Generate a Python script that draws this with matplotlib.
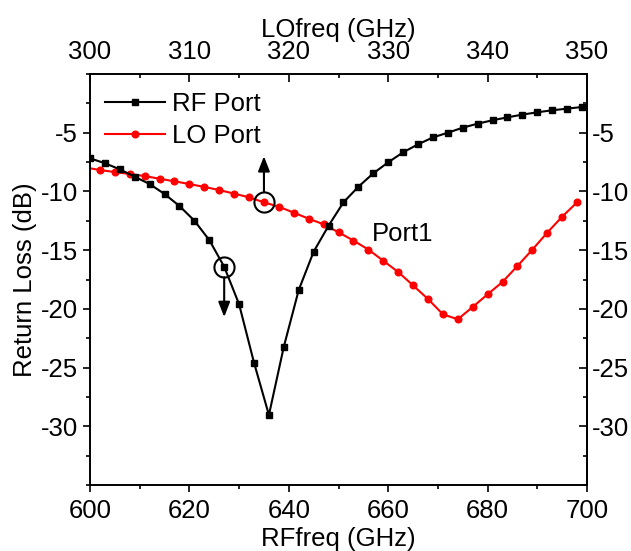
import matplotlib
matplotlib.use("Agg")
import matplotlib.pyplot as plt
from matplotlib.ticker import MultipleLocator, FixedLocator

plt.rcParams['font.family'] = ['Liberation Sans', 'DejaVu Sans']
plt.rcParams['axes.unicode_minus'] = False

# RF port (bottom axis, RF frequency in GHz)
rf_freq = [600, 603, 606, 609, 612, 615, 618, 621, 624, 627, 630, 633, 636, 639,
           642, 645, 648, 651, 654, 657, 660, 663, 666, 669, 672, 675, 678, 681,
           684, 687, 690, 693, 696, 699]
rf_loss = [-7.18, -7.60, -8.12, -8.75, -9.37, -10.22, -11.24, -12.49, -14.14, -16.41,
           -19.61, -24.58, -29.04, -23.22, -18.39, -15.13, -12.92, -10.93, -9.60, -8.46,
           -7.52, -6.67, -5.99, -5.40, -5.00, -4.57, -4.23, -3.94, -3.69, -3.46,
           -3.26, -3.09, -2.95, -2.81]

# LO port (top axis, LO frequency in GHz)
lo_freq = [299.5, 301, 302.5, 304, 305.5, 307, 308.5, 310, 311.5, 313, 314.5, 316,
           317.5, 319, 320.5, 322, 323.5, 325, 326.5, 328, 329.5, 331, 332.5, 334,
           335.5, 337, 338.5, 340, 341.5, 343, 344.5, 346, 347.5, 349]
lo_loss = [-7.95, -8.18, -8.35, -8.52, -8.69, -8.92, -9.14, -9.37, -9.62, -9.88,
           -10.19, -10.50, -10.93, -11.30, -11.81, -12.32, -12.80, -13.48, -14.18, -14.95,
           -15.90, -16.86, -18.00, -19.16, -20.46, -20.89, -19.84, -18.76, -17.71, -16.35,
           -14.96, -13.51, -12.15, -10.93]

y_ticks = [-30, -25, -20, -15, -10, -5]

fs = 18.5
fig = plt.figure(figsize=(6.31, 5.51), dpi=100)
ax = fig.add_axes([90/631, 1-485/551, (587-90)/631, (485-74)/551])
ax2 = ax.twiny()
ax.set_zorder(ax2.get_zorder() + 1)
ax.patch.set_visible(False)

l1, = ax.plot(rf_freq, rf_loss, color='black', lw=1.5, marker='s', ms=4.4,
              label='RF Port')
l2, = ax2.plot(lo_freq, lo_loss, color='#ff0000', lw=1.5, marker='o', ms=4.8,
               label='LO Port')

ax.set_xlim(600, 700)
ax.set_ylim(-35, 0)
ax2.set_xlim(300, 350)

ax.xaxis.set_major_locator(MultipleLocator(20))
ax.xaxis.set_minor_locator(MultipleLocator(10))
ax.yaxis.set_major_locator(FixedLocator(y_ticks))
ax.yaxis.set_minor_locator(MultipleLocator(2.5))
ax2.xaxis.set_major_locator(MultipleLocator(10))
ax2.xaxis.set_minor_locator(MultipleLocator(5))

ax.tick_params(axis='x', which='both', direction='out', labelsize=fs, pad=5)
ax.tick_params(axis='y', which='both', direction='out', labelsize=fs)
ax.tick_params(which='major', length=5, width=1.2)
ax.tick_params(which='minor', length=3, width=1.2)
ax2.tick_params(axis='x', which='both', direction='in', labelsize=fs, pad=7)
ax2.tick_params(which='major', length=6, width=1.2)
ax2.tick_params(which='minor', length=3, width=1.2)

sec = ax.secondary_yaxis('right')
sec.yaxis.set_major_locator(FixedLocator(y_ticks))
sec.yaxis.set_minor_locator(MultipleLocator(2.5))
sec.tick_params(which='both', direction='in', labelsize=fs, width=1.2)
sec.tick_params(which='major', length=6)
sec.tick_params(which='minor', length=3)

for a in (ax, ax2, sec):
    for s in a.spines.values():
        s.set_linewidth(1.2)

ax.set_xlabel('RFfreq (GHz)', fontsize=fs, labelpad=3)
ax.set_ylabel('Return Loss (dB)', fontsize=fs, labelpad=3)
ax2.set_xlabel('LOfreq (GHz)', fontsize=fs, labelpad=2)

ax.legend(handles=[l1, l2], loc='upper left', frameon=False, fontsize=fs,
          handlelength=2.3, handletextpad=0.3, labelspacing=0.3,
          borderaxespad=0.2, bbox_to_anchor=(0.0, 0.993))

# circles and arrows
ax.plot([627], [-16.41], marker='o', ms=14.5, mfc='none', mec='black', mew=1.5)
ax.plot([635], [-10.93], marker='o', ms=14.5, mfc='none', mec='black', mew=1.5)
ax.annotate('', xy=(627, -20.7), xytext=(627, -17.3),
            arrowprops=dict(arrowstyle='-|>,head_length=0.9,head_width=0.35',
                            color='black', lw=1.5, shrinkA=0, shrinkB=0))
ax.annotate('', xy=(635, -7.0), xytext=(635, -10.05),
            arrowprops=dict(arrowstyle='-|>,head_length=0.9,head_width=0.35',
                            color='black', lw=1.5, shrinkA=0, shrinkB=0))

ax.text(656.8, -13.6, 'Port1', fontsize=fs, va='center', ha='left')

fig.savefig('out.png', dpi=100)
